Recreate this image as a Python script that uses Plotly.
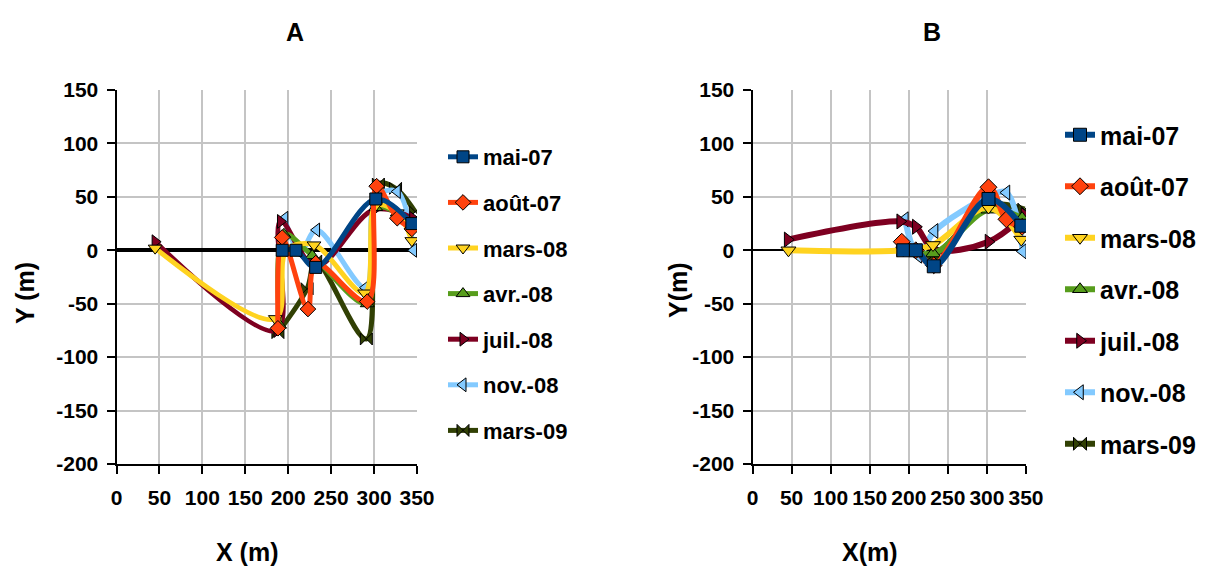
import plotly.graph_objects as go

W, H = 1206, 566

series_names = ["mai-07", "août-07", "mars-08", "avr.-08", "juil.-08", "nov.-08", "mars-09"]
colors = ["#004586", "#ff420e", "#ffd320", "#579d1c", "#7e0021", "#83caff", "#314004"]
symbols = ["square", "diamond", "triangle-down", "triangle-up", "triangle-right", "triangle-left", "bowtie"]

# ---- Panel A data ----
a_mai07_x = [193, 209, 232, 302, 344]
a_mai07_y = [0, 0, -16, 48, 25]
a_aout07_x = [188, 193, 223, 232, 292, 303, 327, 344]
a_aout07_y = [-73, 12, -55, -12, -48, 60, 30, 20]
a_mars08_x = [45, 185, 198, 230, 289, 302, 327, 344]
a_mars08_y = [2, -64, 0, 5, -40, 42, 35, 9]
a_avr08_x = [190, 195, 228, 292, 302, 327, 345]
a_avr08_y = [-70, 15, -5, -50, 40, 35, 25]
a_juil08_x = [45, 187, 191, 232, 300, 345]
a_juil08_y = [8, -75, 27, -15, 38, 30]
a_nov08_x = [196, 214, 233, 290, 302, 327, 346]
a_nov08_y = [30, -2, 19, -35, 50, 55, 0]
a_mars09_x = [188, 222, 232, 291, 305, 325, 348]
a_mars09_y = [-77, -36, -10, -83, 62, 58, 36]

# ---- Panel B data ----
b_mai07_x = [193, 209, 232, 302, 344]
b_mai07_y = [0, 0, -15, 48, 23]
b_aout07_x = [191, 209, 232, 302, 325, 345]
b_aout07_y = [8, 0, -14, 59, 29, 22]
b_mars08_x = [46, 193, 231, 302, 344]
b_mars08_y = [0, 0, 5, 40, 10]
b_avr08_x = [193, 231, 302, 345]
b_avr08_y = [2, -3, 38, 30]
b_juil08_x = [45, 189, 209, 232, 302, 348]
b_juil08_y = [10, 27, 22, 1, 8, 33]
b_nov08_x = [195, 212, 233, 302, 325, 346]
b_nov08_y = [29, -5, 18, 50, 54, -1]
b_mars09_x = [193, 230, 302, 348]
b_mars09_y = [0, -5, 42, 38]

x_ticks = [0, 50, 100, 150, 200, 250, 300, 350]
x_tick_text = ["0", "50", "100", "150", "200", "250", "300", "350"]
y_ticks = [-200, -150, -100, -50, 0, 50, 100, 150]
y_tick_text = ["-200", "-150", "-100", "-50", "0", "50", "100", "150"]

panel_a = [(a_mai07_x, a_mai07_y), (a_aout07_x, a_aout07_y), (a_mars08_x, a_mars08_y),
           (a_avr08_x, a_avr08_y), (a_juil08_x, a_juil08_y), (a_nov08_x, a_nov08_y),
           (a_mars09_x, a_mars09_y)]
panel_b = [(b_mai07_x, b_mai07_y), (b_aout07_x, b_aout07_y), (b_mars08_x, b_mars08_y),
           (b_avr08_x, b_avr08_y), (b_juil08_x, b_juil08_y), (b_nov08_x, b_nov08_y),
           (b_mars09_x, b_mars09_y)]

FONT = "Arial, 'Liberation Sans', sans-serif"

fig = go.Figure()

def add_panel(data, xa, ya, legend, msize, lw):
    for i in reversed(range(len(series_names))):
        xs, ys = data[i]
        fig.add_trace(go.Scatter(
            x=xs, y=ys, name=series_names[i], mode="lines+markers",
            line=dict(color=colors[i], width=lw, shape="spline", smoothing=1.0),
            marker=dict(symbol=symbols[i], size=msize, color=colors[i],
                        line=dict(color="black", width=1)),
            xaxis=xa, yaxis=ya, legend=legend, legendrank=i + 1,
            legendgroup=legend + str(i), showlegend=True))

add_panel(panel_a, "x", "y", "legend", 12, 5)
add_panel(panel_b, "x2", "y2", "legend2", 13, 6)

def px_x(p):
    return p / W

def px_y(p):
    return 1 - p / H

axis_common = dict(
    showgrid=True, gridcolor="#c4c4c4", gridwidth=1.5,
    showline=True, linecolor="black", linewidth=2,
    ticks="outside", ticklen=8, tickwidth=2, tickcolor="black",
    tickfont=dict(family=FONT, size=21, color="black", weight="bold"),
    automargin=False, fixedrange=True,
)

fig.update_layout(
    width=W, height=H, margin=dict(l=0, r=0, t=0, b=0),
    paper_bgcolor="white", plot_bgcolor="white",
    font=dict(family=FONT, color="black"),
    xaxis=dict(domain=[px_x(116.5), px_x(417)], range=[0, 350], tickvals=x_ticks,
               ticktext=x_tick_text, zeroline=False, anchor="y", ticklabelstandoff=6,
               **axis_common),
    yaxis=dict(domain=[px_y(464), px_y(90)], range=[-200, 150], tickvals=y_ticks,
               ticktext=y_tick_text, zeroline=True, zerolinecolor="black", zerolinewidth=4,
               anchor="x", ticklabelstandoff=4, **axis_common),
    xaxis2=dict(domain=[px_x(752.5), px_x(1026)], range=[0, 350], tickvals=x_ticks,
                ticktext=x_tick_text, zeroline=False, anchor="y2", ticklabelstandoff=6,
                **axis_common),
    yaxis2=dict(domain=[px_y(464), px_y(90)], range=[-200, 150], tickvals=y_ticks,
                ticktext=y_tick_text, zeroline=True, zerolinecolor="black", zerolinewidth=2,
                anchor="x2", ticklabelstandoff=4, **axis_common),
    legend=dict(x=px_x(443), y=px_y(136), xanchor="left", yanchor="top",
                font=dict(family=FONT, size=22, color="black", weight="bold"),
                tracegroupgap=14, bgcolor="rgba(0,0,0,0)"),
    legend2=dict(x=px_x(1060), y=px_y(112), xanchor="left", yanchor="top",
                 font=dict(family=FONT, size=25, color="black", weight="bold"),
                 tracegroupgap=16, bgcolor="rgba(0,0,0,0)"),
    showlegend=True,
)

ann = [
    dict(text="A", x=px_x(295), y=px_y(32), size=25, angle=0),
    dict(text="B", x=px_x(932), y=px_y(32), size=25, angle=0),
    dict(text="X (m)", x=px_x(247), y=px_y(552), size=25, angle=0),
    dict(text="X(m)", x=px_x(870), y=px_y(552), size=25, angle=0),
    dict(text="Y (m)", x=px_x(25), y=px_y(293), size=25, angle=-90),
    dict(text="Y(m)", x=px_x(678), y=px_y(290), size=25, angle=-90),
]
for a in ann:
    fig.add_annotation(text=a["text"], x=a["x"], y=a["y"], xref="paper", yref="paper",
                       xanchor="center", yanchor="middle", showarrow=False,
                       textangle=a["angle"],
                       font=dict(family=FONT, size=a["size"], color="black", weight="bold"))

fig.write_html("out.html", config={"displayModeBar": False},
               post_script="document.body.style.margin='0';")
